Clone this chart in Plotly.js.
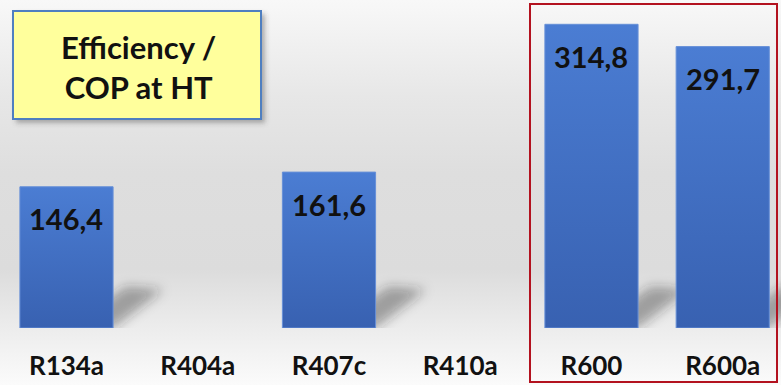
<!DOCTYPE html>
<html>
<head>
<meta charset="utf-8">
<script src="https://cdn.plot.ly/plotly-3.0.1.min.js"></script>
<style>
  html, body { margin: 0; padding: 0; }
  #chart {
    width: 781px; height: 385px;
    background: linear-gradient(to bottom, #f8f8f8 0%, #e7e7e7 25%, #dedede 45%, #dcdcdc 70%, #ececec 85%, #fbfbfb 100%);
  }
</style>
</head>
<body>
<div id="chart"></div>
<script>
// Refrigerants and their efficiency / COP score at high temperature
const refrigerants = ['R134a', 'R404a', 'R407c', 'R410a', 'R600', 'R600a'];
const copValues = [146.4, null, 161.6, null, 314.8, 291.7];
const chartTitle = 'Efficiency /<br>COP at HT';

const positions = refrigerants.map((_, i) => i);
const fmt = v => v.toFixed(1).replace('.', ',');

const W = 781, H = 385, ML = 1, MB = 57;
const plotW = W - ML, plotH = H - MB;
const px = x => (x - ML) / plotW;      // pixel -> paper x
const py = y => 1 - y / plotH;         // pixel -> paper y

const barHalf = 0.355;

const bars = {
  type: 'bar',
  x: positions,
  y: copValues,
  width: barHalf * 2,
  marker: { color: '#4270c2', line: { color: '#6790d8', width: 1 } },
  hoverinfo: 'skip'
};

// value labels placed just inside the top of each bar
const valueLabels = [];
copValues.forEach((v, i) => {
  if (v == null) return;
  valueLabels.push({
    x: i, y: v, xref: 'x', yref: 'y',
    text: fmt(v), showarrow: false,
    yanchor: 'middle', yshift: -32,
    font: { family: 'Lato', size: 29, weight: 700, color: '#111111' }
  });
});

// soft cast shadows behind the base of each bar
const shadows = [];
copValues.forEach((v, i) => {
  if (v == null) return;
  shadows.push({
    type: 'path', xref: 'x', yref: 'y', layer: 'below',
    path: `M ${i},0 L ${i + barHalf},0 L ${i + barHalf + 0.38},40 L ${i + barHalf + 0.10},43 Z`,
    fillcolor: 'rgba(40,40,40,0.38)', line: { width: 0 }
  });
});

const shapes = shadows.concat([
  // title box shadow + box
  { type: 'rect', xref: 'paper', yref: 'paper', layer: 'above',
    x0: px(16), x1: px(265), y0: py(123), y1: py(14),
    fillcolor: 'rgba(70,70,70,0.4)', line: { width: 0 } },
  { type: 'rect', xref: 'paper', yref: 'paper', layer: 'above',
    x0: px(13), x1: px(261), y0: py(119), y1: py(11),
    fillcolor: '#ffff9c', line: { color: '#4f7fc0', width: 2 } },
  // highlight frame around the hydrocarbon refrigerants
  { type: 'rect', xref: 'paper', yref: 'paper', layer: 'above',
    x0: px(530), x1: px(777), y0: py(382), y1: py(4),
    fillcolor: 'rgba(0,0,0,0)', line: { color: '#b3121f', width: 2 } }
]);

const annotations = valueLabels.concat([{
  xref: 'paper', yref: 'paper', x: px(138), y: py(67),
  text: chartTitle, showarrow: false, align: 'center',
  xanchor: 'center', yanchor: 'middle',
  font: { family: 'Lato', size: 31, weight: 700, color: '#111111' }
}]);

const layout = {
  width: W, height: H,
  margin: { l: ML, r: 0, t: 0, b: MB, pad: 0 },
  paper_bgcolor: 'rgba(0,0,0,0)',
  plot_bgcolor: 'rgba(0,0,0,0)',
  showlegend: false,
  xaxis: {
    type: 'linear', range: [-0.499, 5.444], fixedrange: true,
    tickmode: 'array', tickvals: positions, ticktext: refrigerants,
    showgrid: false, zeroline: false, showline: false, ticks: '',
    ticklabelstandoff: 20,
    tickfont: { family: 'Lato', size: 26, weight: 700, color: '#111111' }
  },
  yaxis: {
    range: [0, 340], visible: false, showgrid: false, zeroline: false, fixedrange: true
  },
  shapes: shapes,
  annotations: annotations
};

Plotly.newPlot('chart', [bars], layout, { staticPlot: true, displayModeBar: false }).then(gd => {
  const NS = 'http://www.w3.org/2000/svg';
  const svg = gd.querySelector('svg.main-svg');
  let defs = svg.querySelector('defs');
  if (!defs) { defs = document.createElementNS(NS, 'defs'); svg.insertBefore(defs, svg.firstChild); }

  // vertical shading on the bars
  const grad = document.createElementNS(NS, 'linearGradient');
  grad.setAttribute('id', 'barShade');
  grad.setAttribute('x1', '0'); grad.setAttribute('y1', '0');
  grad.setAttribute('x2', '0'); grad.setAttribute('y2', '1');
  [['0', '#4b7dd3'], ['1', '#3861b1']].forEach(([o, c]) => {
    const s = document.createElementNS(NS, 'stop');
    s.setAttribute('offset', o); s.setAttribute('stop-color', c);
    grad.appendChild(s);
  });
  defs.appendChild(grad);

  // blur for shadows
  const mkBlur = (id, sd) => {
    const f = document.createElementNS(NS, 'filter');
    f.setAttribute('id', id);
    f.setAttribute('x', '-50%'); f.setAttribute('y', '-50%');
    f.setAttribute('width', '200%'); f.setAttribute('height', '200%');
    const b = document.createElementNS(NS, 'feGaussianBlur');
    b.setAttribute('stdDeviation', sd);
    f.appendChild(b);
    defs.appendChild(f);
  };
  mkBlur('softShadow', 6);
  mkBlur('boxShadow', 2.5);

  gd.querySelectorAll('.barlayer .point path').forEach(p => { p.style.fill = 'url(#barShade)'; });

  const nShadow = shadows.length;
  gd.querySelectorAll('.shapelayer path').forEach(p => {
    const idx = +p.getAttribute('data-index');
    if (idx < nShadow) p.setAttribute('filter', 'url(#softShadow)');
    else if (idx === nShadow) p.setAttribute('filter', 'url(#boxShadow)');
  });
});
</script>
</body>
</html>
